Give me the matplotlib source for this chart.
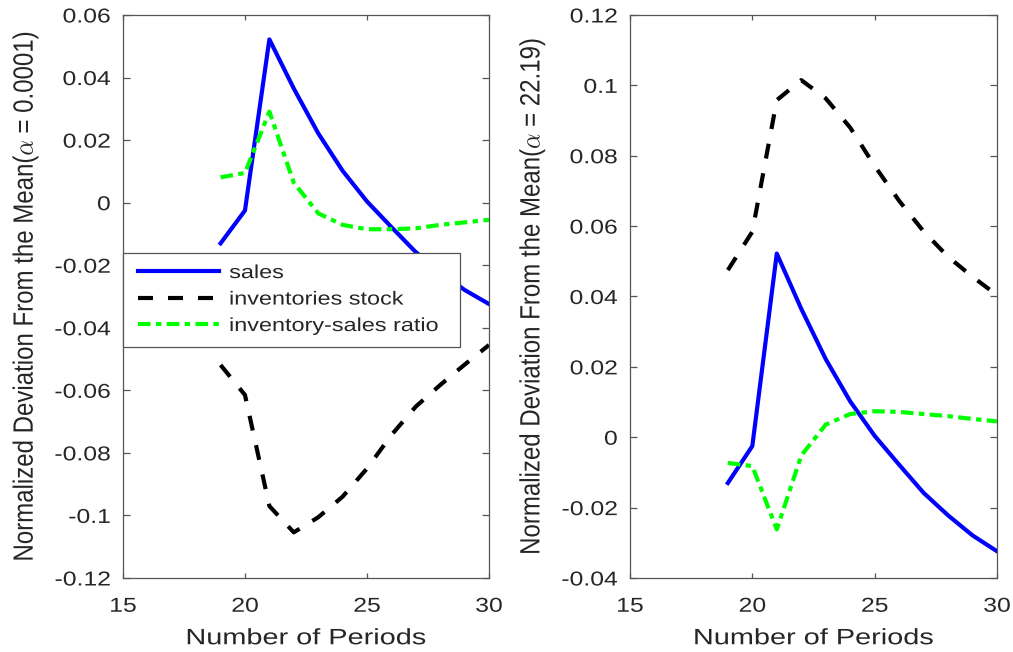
import matplotlib
matplotlib.use("Agg")
import matplotlib.pyplot as plt
import matplotlib.patheffects as pe
from matplotlib.transforms import Affine2D
from matplotlib.lines import Line2D
from matplotlib.legend_handler import HandlerLine2D

periods = list(range(19, 31))

# left panel (alpha = 0.0001)
sales = [-0.013, -0.0025, 0.0522, 0.0365, 0.0222, 0.0102, 0.0004,
         -0.0078, -0.0158, -0.0222, -0.0279, -0.0324]
inv_left = [-0.0519, -0.0615, -0.0970, -0.1054, -0.1006, -0.0940, -0.0850,
            -0.0743, -0.0652, -0.0583, -0.0518, -0.0455]
ratio_left = [0.0081, 0.0095, 0.0291, 0.0064, -0.0034, -0.0071, -0.0085,
              -0.0085, -0.0082, -0.0071, -0.0063, -0.0055]

# right panel (alpha = 22.19)
inv_right = [0.0475, 0.0584, 0.0958, 0.1015, 0.0963, 0.0880, 0.0771,
             0.0672, 0.0585, 0.0513, 0.0456, 0.0404]
ratio_right = [-0.0073, -0.0082, -0.0262, -0.0052, 0.0036, 0.0066, 0.0074,
               0.0072, 0.0066, 0.0060, 0.0052, 0.0045]

legend_labels = ['sales', 'inventories stock', 'inventory-sales ratio']


class Stretch(pe.AbstractPathEffect):
    """widen text glyphs horizontally (the original figure was stretched)"""

    def __init__(self, sx, anchor='center'):
        super().__init__()
        self.sx = sx
        self.anchor = anchor

    def draw_path(self, renderer, gc, tpath, affine, rgbFace=None):
        ext = tpath.get_extents(affine)
        if self.anchor == 'left':
            x0 = ext.x0
        elif self.anchor == 'right':
            x0 = ext.x1
        else:
            x0 = (ext.x0 + ext.x1) / 2
        st = Affine2D().translate(-x0, 0).scale(self.sx, 1).translate(x0, 0)
        renderer.draw_path(gc, tpath, affine + st, rgbFace)


plt.rcParams['font.family'] = ['Liberation Sans', 'DejaVu Sans']
plt.rcParams['mathtext.fontset'] = 'cm'

fig = plt.figure(figsize=(10.13, 6.52), dpi=100)
ax1 = fig.add_axes([0.1214, 0.1135, 0.3613, 0.8635])
ax2 = fig.add_axes([0.6219, 0.1135, 0.3623, 0.8635])

spine_col = '#555555'
text_col = '#262626'
lw = 3.0
dash_black = (0, (3.6, 3.6))
dash_green = (0, (3.0, 1.3, 1.3, 1.3))


def style(ax, ylim, yticks, yticklabels, alpha_txt):
    ax.set_xlim(15, 30)
    ax.set_xticks([15, 20, 25, 30])
    ax.set_ylim(*ylim)
    ax.set_yticks(yticks)
    ax.set_yticklabels(yticklabels)
    ax.tick_params(direction='in', top=True, right=True, width=0.9,
                   color=spine_col, labelcolor=text_col, labelsize=14.5)
    ax.tick_params(axis='y', length=5, pad=9)
    ax.tick_params(axis='x', length=3.6, pad=13.5)
    for s in ax.spines.values():
        s.set_color(spine_col)
        s.set_linewidth(0.9)
    for lab in ax.get_yticklabels():
        lab.set_path_effects([Stretch(1.23, 'right')])
    for lab in ax.get_xticklabels():
        lab.set_path_effects([Stretch(1.23, 'center')])
    ax.set_xlabel('Number of Periods', fontsize=16, color=text_col, labelpad=9,
                  path_effects=[Stretch(1.3, 'center')])
    ax.set_ylabel('Normalized Deviation From the Mean($\\alpha$ = ' + alpha_txt + ')',
                  fontsize=17.3, color=text_col,
                  path_effects=[Stretch(1.16, 'center')])
    ax.yaxis.set_label_coords(-0.23, 0.5)


ax1.plot(periods, sales, color='#0000ff', lw=lw, label=legend_labels[0])
ax1.plot(periods, inv_left, color='k', lw=lw, ls=dash_black, label=legend_labels[1])
ax1.plot(periods, ratio_left, color='#00ff00', lw=lw, ls=dash_green,
         label=legend_labels[2])
style(ax1, (-0.12, 0.06),
      [-0.12, -0.1, -0.08, -0.06, -0.04, -0.02, 0, 0.02, 0.04, 0.06],
      ['-0.12', '-0.1', '-0.08', '-0.06', '-0.04', '-0.02', '0', '0.02', '0.04', '0.06'],
      '0.0001')
leg = ax1.legend(loc='upper left', bbox_to_anchor=(0, 0.423, 0.921, 0.154),
                 mode='expand', borderaxespad=0, fontsize=13.6, fancybox=False,
                 framealpha=1, edgecolor=spine_col, handlelength=4.48,
                 handletextpad=0.53, borderpad=0.62, labelspacing=0.49,
                 handler_map={Line2D: HandlerLine2D(xpad=0.16)})
leg.get_frame().set_linewidth(0.9)
for t in leg.get_texts():
    t.set_color(text_col)
    t.set_path_effects([Stretch(1.24, 'left')])

ax2.plot(periods, inv_right, color='k', lw=lw, ls=dash_black)
ax2.plot(periods, sales, color='#0000ff', lw=lw)
ax2.plot(periods, ratio_right, color='#00ff00', lw=lw, ls=dash_green)
style(ax2, (-0.04, 0.12),
      [-0.04, -0.02, 0, 0.02, 0.04, 0.06, 0.08, 0.1, 0.12],
      ['-0.04', '-0.02', '0', '0.02', '0.04', '0.06', '0.08', '0.1', '0.12'],
      '22.19')

fig.savefig('out.png', dpi=100)
